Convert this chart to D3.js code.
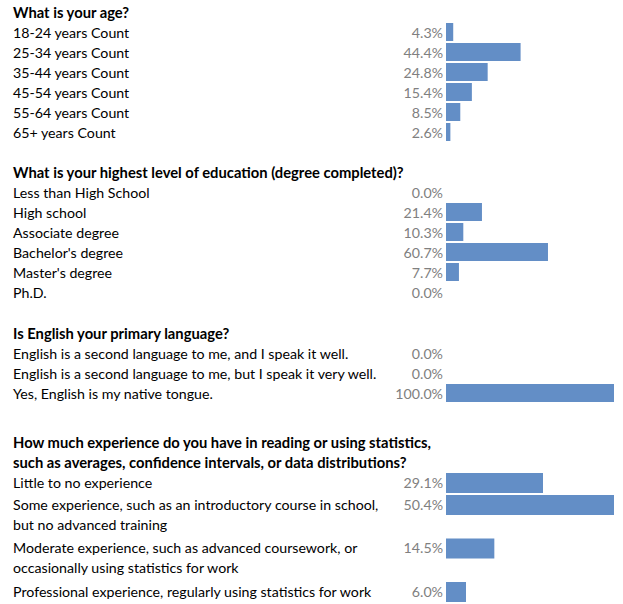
<!DOCTYPE html>
<html>
<head>
<meta charset="utf-8">
<script src="https://cdn.jsdelivr.net/npm/d3@7"></script>
<style>
  body { margin: 0; background: #fff; }
  text { font-family: Lato, "Noto Sans", sans-serif; font-size: 14.2px; }
  text.head { font-weight: bold; font-size: 14.75px; }
</style>
</head>
<body>
<div id="chart"></div>
<script>
// ---- data ----
var ageTitle = ['What is your age?']
var ageLabels = ['18-24 years Count', '25-34 years Count', '35-44 years Count', '45-54 years Count', '55-64 years Count', '65+ years Count']
var ageValues = [4.3, 44.4, 24.8, 15.4, 8.5, 2.6]

var eduTitle = ['What is your highest level of education (degree completed)?']
var eduLabels = ['Less than High School', 'High school', 'Associate degree', "Bachelor's degree", "Master's degree", 'Ph.D.']
var eduValues = [0.0, 21.4, 10.3, 60.7, 7.7, 0.0]

var langTitle = ['Is English your primary language?']
var langLabels = ['English is a second language to me, and I speak it well.', 'English is a second language to me, but I speak it very well.', 'Yes, English is my native tongue.']
var langValues = [0.0, 0.0, 100.0]

var expTitle = ['How much experience do you have in reading or using statistics,', 'such as averages, confidence intervals, or data distributions?']
var expLabels = [
  ['Little to no experience'],
  ['Some experience, such as an introductory course in school,', 'but no advanced training'],
  ['Moderate experience, such as advanced coursework, or', 'occasionally using statistics for work'],
  ['Professional experience, regularly using statistics for work']
]
var expValues = [29.1, 50.4, 14.5, 6.0]

// each section: title lines, labels, values, bar scale max, spacing
var sections = [
  { title: ageTitle, labels: ageLabels, values: ageValues, max: 100, gap: 2, rowH: [20, 40], barH: 18 },
  { title: eduTitle, labels: eduLabels, values: eduValues, max: 100, gap: 20, rowH: [20, 40], barH: 18 },
  { title: langTitle, labels: langLabels, values: langValues, max: 100, gap: 21, rowH: [20, 40], barH: 18 },
  { title: expTitle, labels: expLabels, values: expValues, max: d3.max(expValues), gap: 29, rowH: [22, 43.5], barH: 20 }
]

var W = 623, H = 604
var labelX = 13      // left text column
var valueX = 443     // right edge of the percentage text
var barX0 = 446, barX1 = 614

var svg = d3.select('#chart').append('svg')
    .attr('width', W)
    .attr('height', H)

var y = 0
sections.forEach(function(s) {
  y += s.gap
  var x = d3.scaleLinear().domain([0, s.max]).range([barX0, barX1])

  // header
  s.title.forEach(function(t, i) {
    svg.append('text')
      .attr('class', 'head')
      .attr('x', labelX)
      .attr('y', y + 11 + i * 20)
      .attr('dy', '0.35em')
      .attr('fill', '#000')
      .text(t)
  })
  y += s.title.length * 20

  // rows
  s.labels.forEach(function(lab, i) {
    var lines = Array.isArray(lab) ? lab : [lab]
    var h = s.rowH[lines.length - 1]
    var v = s.values[i]

    if (v > 0) {
      svg.append('rect')
        .attr('x', x(0))
        .attr('y', y + 1)
        .attr('width', x(v) - x(0))
        .attr('height', s.barH)
        .attr('fill', '#638ec6')
    }

    svg.append('text')
      .attr('x', valueX)
      .attr('y', y + 11)
      .attr('dy', '0.35em')
      .attr('text-anchor', 'end')
      .attr('fill', '#808080')
      .text(d3.format('.1f')(v) + '%')

    lines.forEach(function(t, j) {
      svg.append('text')
        .attr('x', labelX)
        .attr('y', y + 11 + j * 20)
        .attr('dy', '0.35em')
        .attr('fill', '#000')
        .text(t)
    })
    y += h
  })
})
</script>
</body>
</html>
